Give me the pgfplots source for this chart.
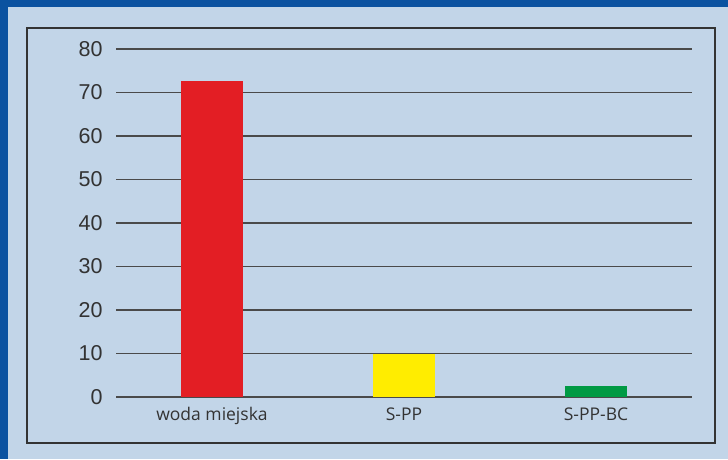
\documentclass[border=0pt]{standalone}
\usepackage{pgfplots}
\pgfplotsset{compat=1.18}
\usepackage{fontspec}
\setmainfont{Liberation Sans}
\newfontfamily\catfont{Open Sans}
\definecolor{outerblue}{HTML}{0B52A0}
\definecolor{bgblue}{HTML}{C2D5E8}
\definecolor{barred}{HTML}{E31E24}
\definecolor{baryellow}{HTML}{FFED00}
\definecolor{bargreen}{HTML}{009A44}
\definecolor{gridc}{HTML}{4A4A4A}
\definecolor{textc}{HTML}{333333}
\begin{document}
\begin{tikzpicture}[x=1pt,y=1pt]
\fill[outerblue] (0,0) rectangle (728,459);
\fill[bgblue] (8,0) rectangle (728,452);
\draw[textc, line width=1.2pt] (27,16) rectangle (715,431);
\begin{axis}[
  at={(116pt,62pt)}, anchor=south west,
  scale only axis, width=576pt, height=348pt,
  xmin=-0.5, xmax=2.5, ymin=0, ymax=80,
  axis line style={draw=none},
  major tick length=0pt,
  ytick={0,10,...,80},
  ymajorgrids, grid style={gridc, line width=1.1pt},
  xtick={0,1,2},
  xticklabels={woda miejska, S-PP, S-PP-BC},
  xticklabel style={font=\catfont\fontsize{17.5}{20}\selectfont, text=textc, yshift=-7pt},
  yticklabel style={font=\fontsize{21.5}{24}\selectfont, text=textc, xshift=-10pt},
  /pgf/number format/assume math mode=true,
  ybar, bar width=0.318,
  clip=false,
]
\addplot[fill=barred, draw=none, bar shift=0pt] coordinates {(0,72.6)};
\addplot[fill=baryellow, draw=none, bar shift=0pt] coordinates {(1,10)};
\addplot[fill=bargreen, draw=none, bar shift=0pt] coordinates {(2,2.6)};
\end{axis}
\end{tikzpicture}
\end{document}
